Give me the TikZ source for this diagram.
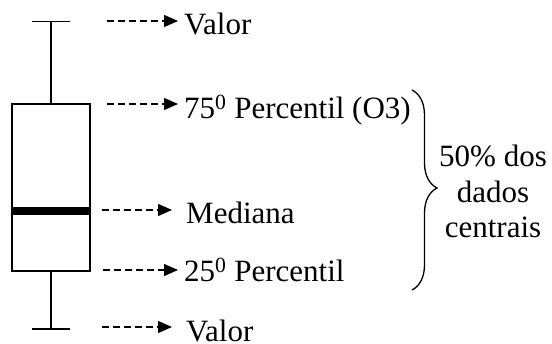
\documentclass[tikz,border=0pt]{standalone}
\usepackage{fontspec}
\setmainfont{Liberation Serif}
\usetikzlibrary{arrows.meta,decorations.pathreplacing}
\begin{document}
\begin{tikzpicture}[x=1pt,y=-1pt,
  boxline/.style={line width=1.8pt},
  ptr/.style={line width=1.3pt,dash pattern=on 7pt off 4pt,-{Triangle[length=14pt,width=12pt]}},
  lbl/.style={anchor=base west,inner sep=0pt,font=\fontsize{31}{36}\selectfont},
  note/.style={align=center,inner sep=0pt,font=\fontsize{31}{35.5}\selectfont}]
\useasboundingbox (0,0) rectangle (552,344);
% box plot
\node[draw,boxline,minimum width=78pt,minimum height=167pt,inner sep=0pt] (box) at (51,187.5) {};
\coordinate (topcap) at (51,21.5);
\coordinate (botcap) at (51,329);
\draw[boxline] (box.north) -- (topcap);
\draw[boxline] (box.south) -- (botcap);
\draw[boxline] ([xshift=-19pt]topcap) -- ([xshift=19pt]topcap);
\draw[boxline] ([xshift=-19pt]botcap) -- ([xshift=19pt]botcap);
\coordinate (medL) at (12,211);
\coordinate (medR) at (90,211);
\draw[line width=8pt] (medL) -- (medR);
% labels
\node[lbl] (v1) at (184,35) {Valor};
\node[lbl] (q3) at (184,119) {75\textsuperscript{0} Percentil (O3)};
\node[lbl] (md) at (186,224) {Mediana};
\node[lbl] (q1) at (184,282) {25\textsuperscript{0} Percentil};
\node[lbl] (v2) at (186,342) {Valor};
% arrows
\coordinate (a1s) at (107,21); \coordinate (a1e) at (178,21);
\coordinate (a2s) at (107,104); \coordinate (a2e) at (178,104);
\coordinate (a3s) at (102,210); \coordinate (a3e) at (172,210);
\coordinate (a4s) at (103,270); \coordinate (a4e) at (178,270);
\coordinate (a5s) at (102,327); \coordinate (a5e) at (172,327);
\draw[ptr] (a1s) -- (a1e);
\draw[ptr] (a2s) -- (a2e);
\draw[ptr] (a3s) -- (a3e);
\draw[ptr] (a4s) -- (a4e);
\draw[ptr] (a5s) -- (a5e);
% brace
\coordinate (bt) at (412,90);
\coordinate (bb) at (412,290);
\draw[line width=1.3pt,decorate,decoration={brace,amplitude=25pt,aspect=0.49}] (bt) -- (bb);
\node[note,anchor=base] (txt) at (493,238) {50\% dos\\dados\\centrais};
\end{tikzpicture}
\end{document}
